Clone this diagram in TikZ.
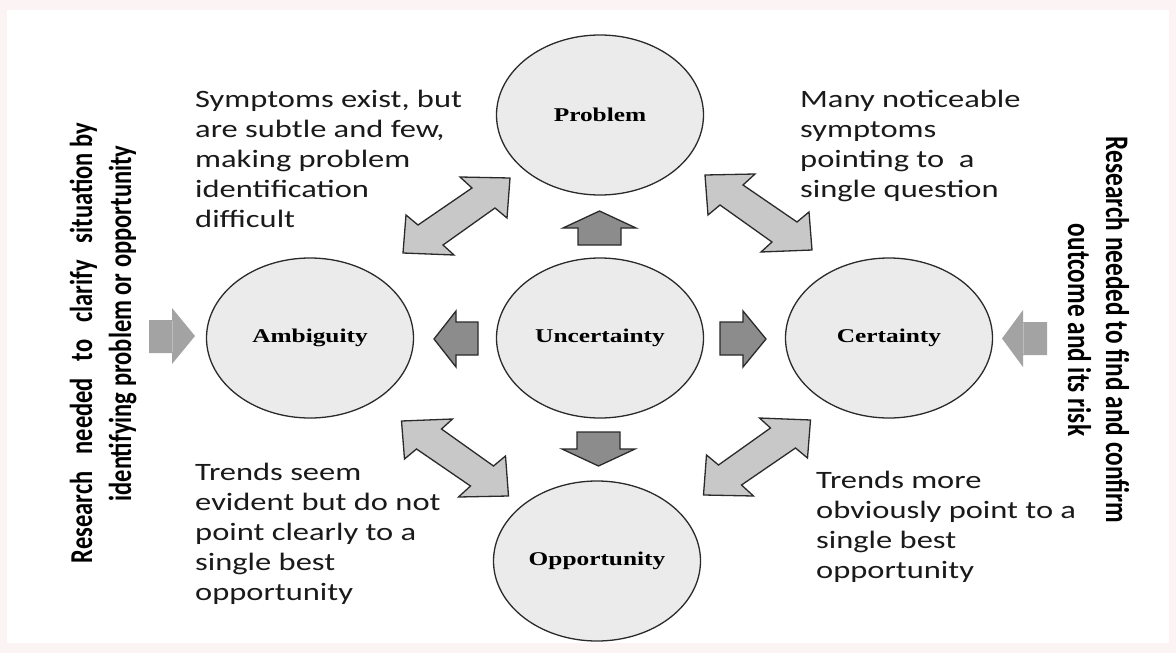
\documentclass[tikz,border=0pt]{standalone}
\usepackage{fontspec}
\usepackage{graphicx}
\setmainfont{Carlito}
\newfontfamily\serifx{Liberation Serif}
\usetikzlibrary{shapes.geometric}
\definecolor{bgpink}{HTML}{FCF3F4}
\definecolor{edgec}{HTML}{2A2A2A}
\definecolor{bubblefill}{HTML}{EBEBEB}
\definecolor{darkfill}{HTML}{8C8C8C}
\definecolor{lightfill}{HTML}{C8C8C8}
\definecolor{outfill}{HTML}{A3A3A3}
\definecolor{outline}{HTML}{BDBDBD}
\definecolor{textc}{HTML}{1A1A1A}
\newcommand\sx[1]{\scalebox{1.3}[1]{#1}}
\newcommand\sy[1]{\scalebox{1}[1.3]{#1}}
\tikzset{
  bubble/.style={ellipse, draw=edgec, line width=1.3pt, fill=bubblefill,
    minimum width=207pt, minimum height=160pt, inner sep=0pt,
    font=\serifx\bfseries\fontsize{19.5}{22}\selectfont, text=black},
  darrow/.style={draw=edgec, line width=1.3pt, fill=darkfill, line join=miter},
  dblstyle/.style={draw=edgec, line width=1.3pt, fill=lightfill, line join=miter},
  outarrow/.style={fill=outfill},
  body/.style={anchor=base west, inner sep=0pt, font=\fontsize{25}{30}\selectfont, text=textc},
  vleft/.style={anchor=base, inner sep=0pt, rotate=90, font=\bfseries\fontsize{24.5}{29}\selectfont, text=black},
  vright/.style={anchor=base, inner sep=0pt, rotate=-90, font=\bfseries\fontsize{25.3}{30}\selectfont, text=black},
  dblarr/.pic={\draw[dblstyle] (53.5,-38) -- (3.5,-39) -- (15.5,-28) -- (-38.5,9) -- (-50.5,-1)
      -- (-53.5,37) -- (-2.5,39) -- (-13.5,29) -- (38.5,-8) -- (50.5,2) -- cycle;}
}
\begin{document}
\begin{tikzpicture}[x=1pt,y=-1pt]
\useasboundingbox (0,0) rectangle (1176,653);
\fill[bgpink] (0,0) rectangle (1176,653);
\fill[white] (7,10) rectangle (1169,643);

% ellipses
\node[bubble] (prob) at (600,115) {\sx{Problem}};
\node[bubble] (amb) at (310,338) {\sx{Ambiguity}};
\node[bubble] (unc) at (600,338) {\sx{Uncertainty}};
\node[bubble] (cert) at (889,338) {\sx{Certainty}};
\node[bubble] (opp) at (597,561) {\sx{Opportunity}};

% dark block arrows from Uncertainty
\draw[darrow] (578,245) -- (578,228) -- (563,228) -- (599.5,211) -- (636,228) -- (621,228) -- (621,245) -- cycle;
\draw[darrow] (577,432) -- (620,432) -- (620,449) -- (635,449) -- (598.5,466) -- (562,449) -- (577,449) -- cycle;
\draw[darrow] (478,322) -- (456,322) -- (456,311) -- (434,339) -- (456,367) -- (456,355) -- (478,355) -- cycle;
\draw[darrow] (720,322) -- (743,322) -- (743,311) -- (766,339) -- (743,367) -- (743,355) -- (720,355) -- cycle;

% outer gray arrows
\fill[outarrow] (149,320) -- (172,320) -- (172,308) -- (195,336) -- (172,364) -- (172,353) -- (149,353) -- cycle;
\draw[outline, line width=0.8pt] (172,321) -- (172,352);
\fill[outarrow] (1047,322) -- (1023,322) -- (1023,310) -- (1002,338.5) -- (1023,367) -- (1023,355) -- (1047,355) -- cycle;
\draw[outline, line width=0.8pt] (1023,323) -- (1023,354);

% double arrows
\pic at (456.5,216) {dblarr};
\pic[xscale=-1] at (758.5,213) {dblarr};
\pic[yscale=-1] at (455,458) {dblarr};
\pic[xscale=-1,yscale=-1] at (757,457) {dblarr};

% body texts
\node[body] (tl) at (195,107) {\sx{\begin{tabular}[t]{@{}l@{}}Symptoms exist, but\\are subtle and few,\\making problem\\identification\\difficult\end{tabular}}};
\node[body] (tr) at (800,107) {\sx{\begin{tabular}[t]{@{}l@{}}Many noticeable\\symptoms\\pointing to\ \ a\\single question\end{tabular}}};
\node[body] (bl) at (195,480) {\sx{\begin{tabular}[t]{@{}l@{}}Trends seem\\evident but do not\\point clearly to a\\single best\\opportunity\end{tabular}}};
\node[body] (br) at (816,488) {\sx{\begin{tabular}[t]{@{}l@{}}Trends more\\obviously point to a\\single best\\opportunity\end{tabular}}};

% vertical texts
\node[vleft] (l1) at (92,343) {\sy{\makebox[440pt][s]{Research\hfill needed\hfill to\hfill clarify\hfill situation by}}};
\node[vleft] (l2) at (131,323.5) {\sy{identifying problem or opportunity}};
\node[vright] (r1) at (1106,330) {\sy{Research needed to find and confirm}};
\node[vright] (r2) at (1068,330) {\sy{outcome and its risk}};
\end{tikzpicture}
\end{document}
